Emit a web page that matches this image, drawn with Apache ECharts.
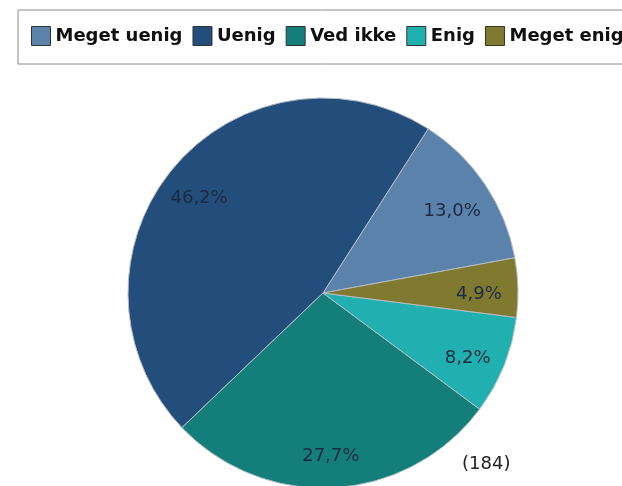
<!DOCTYPE html>
<html>
<head>
<meta charset="utf-8">
<script src="https://cdn.jsdelivr.net/npm/echarts@6/dist/echarts.min.js"></script>
<style>
  html, body { margin: 0; padding: 0; background: #fff; }
  #chart { width: 622px; height: 486px; }
</style>
</head>
<body>
<div id="chart"></div>
<script>
var categories = ['Meget uenig', 'Uenig', 'Ved ikke', 'Enig', 'Meget enig'];
var counts = [24, 85, 51, 15, 9];
var colors = ['#5b82ab', '#234e7b', '#147f7a', '#20b0b0', '#7f7a30'];
var total = 184;

var sum = counts.reduce(function (a, b) { return a + b; }, 0);
var pieData = categories.map(function (name, i) {
    return { name: name, value: counts[i], itemStyle: { color: colors[i] } };
});
var labelData = categories.map(function (name, i) {
    return { name: name, value: counts[i] };
});

var myChart = echarts.init(document.getElementById('chart'));
var option = {
    animation: false,
    legend: {
        left: 18,
        top: 10,
        width: 1000,
        padding: [16, 13, 18, 13],
        borderColor: '#8a8a8a',
        borderWidth: 1,
        itemWidth: 19,
        itemHeight: 19,
        itemGap: 10,
        icon: 'rect',
        itemStyle: { borderColor: '#333', borderWidth: 1 },
        textStyle: {
            fontFamily: 'DejaVu Sans',
            fontWeight: 'bold',
            fontSize: 18,
            color: '#111'
        },
        data: categories
    },
    graphic: [{
        type: 'text',
        left: 462,
        top: 455,
        style: {
            text: '(' + total + ')',
            font: '18px "DejaVu Sans"',
            fill: '#222'
        }
    }],
    series: [{
            name: 'pie',
            type: 'pie',
            center: [323, 293],
            radius: [0, 195],
            clockwise: false,
            startAngle: 10.4,
            label: { show: false },
            labelLine: { show: false },
            emphasis: { disabled: true },
            itemStyle: { borderColor: '#b4bcc6', borderWidth: 1 },
            data: pieData
        },
        {
            name: 'labels',
            type: 'pie',
            silent: true,
            center: [323, 293],
            radius: [115, 195],
            clockwise: false,
            startAngle: 10.4,
            itemStyle: { color: 'rgba(0,0,0,0)', borderWidth: 0 },
            emphasis: { disabled: true },
            label: {
                show: true,
                position: 'inside',
                fontFamily: 'DejaVu Sans',
                fontSize: 18,
                color: '#1b2a40',
                offset: [-2, 6],
                formatter: function (p) {
                    return (p.value / sum * 100).toFixed(1).replace('.', ',') + '%';
                }
            },
            labelLine: { show: false },
            data: labelData
        }
    ]
};
myChart.setOption(option);
</script>
</body>
</html>
